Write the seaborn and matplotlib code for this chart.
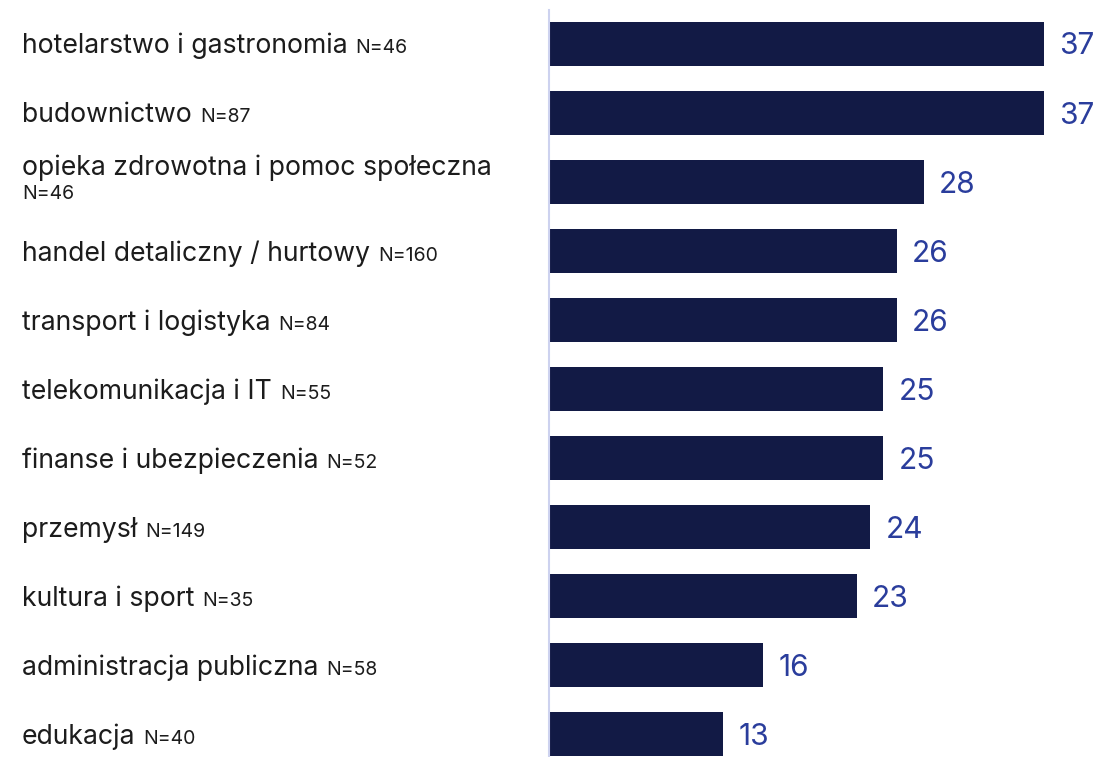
import matplotlib
matplotlib.use("Agg")
import matplotlib.pyplot as plt
import matplotlib.transforms as mtransforms
import seaborn as sns
import pandas as pd

# Sectors, sample sizes and shares (%)
sectors = [
    "hotelarstwo i gastronomia",
    "budownictwo",
    "opieka zdrowotna i pomoc społeczna",
    "handel detaliczny / hurtowy",
    "transport i logistyka",
    "telekomunikacja i IT",
    "finanse i ubezpieczenia",
    "przemysł",
    "kultura i sport",
    "administracja publiczna",
    "edukacja",
]
sample_sizes = [46, 87, 46, 160, 84, 55, 52, 149, 35, 58, 40]
shares = [37, 37, 28, 26, 26, 25, 25, 24, 23, 16, 13]

df = pd.DataFrame({"sector": sectors, "n": sample_sizes, "share": shares})

sns.set_theme(style="white")
plt.rcParams["font.family"] = ["Inter", "DejaVu Sans"]

BAR = "#121a45"
VALUE = "#2a3d9c"
TEXT = "#1c1c1c"
AXIS = "#cdd2ef"

fig = plt.figure(figsize=(10.96, 7.57), dpi=100)
ax = fig.add_axes([0.501, 0.0, 0.499, 0.987])

sns.barplot(data=df, x="share", y="sector", orient="h", color=BAR,
            width=0.64, saturation=1, edgecolor="none", ax=ax)

ax.set_xlim(0, 40.9)
ax.set_ylim(10.33, -0.49)
ax.set_xlabel("")
ax.set_ylabel("")
ax.set_xticks([])
ax.set_yticks([])
for side in ("top", "right", "bottom"):
    ax.spines[side].set_visible(False)
ax.spines["left"].set_color(AXIS)
ax.spines["left"].set_linewidth(1.5)

# value labels at bar ends
for i, v in enumerate(df["share"]):
    ax.annotate(f"{v:.0f}", xy=(v, i), xytext=(11, -2), textcoords="offset points",
                ha="left", va="center", fontsize=21.5, color=VALUE,
                annotation_clip=False)

# category labels on the left, with sample size in smaller type
trans = mtransforms.blended_transform_factory(fig.transFigure, ax.transData)
x0 = 22 / 1096
renderer = fig.canvas.get_renderer()
for i, (name, n) in enumerate(zip(df["sector"], df["n"])):
    if i == 2:
        ax.text(x0, i - 0.2, name, transform=trans, ha="left", va="center",
                fontsize=19.2, color=TEXT)
        ax.text(x0, i + 0.18, f"N={n}", transform=trans, ha="left", va="center",
                fontsize=14, color=TEXT)
        continue
    t = ax.text(x0, i + 0.14, name, transform=trans, ha="left", va="baseline",
                fontsize=19.2, color=TEXT)
    bb = t.get_window_extent(renderer=renderer)
    xn = (bb.x1 + 8) / fig.bbox.width
    ax.text(xn, i + 0.14, f"N={n}", transform=trans, ha="left", va="baseline",
            fontsize=14, color=TEXT)

fig.savefig("out.png", dpi=100)
